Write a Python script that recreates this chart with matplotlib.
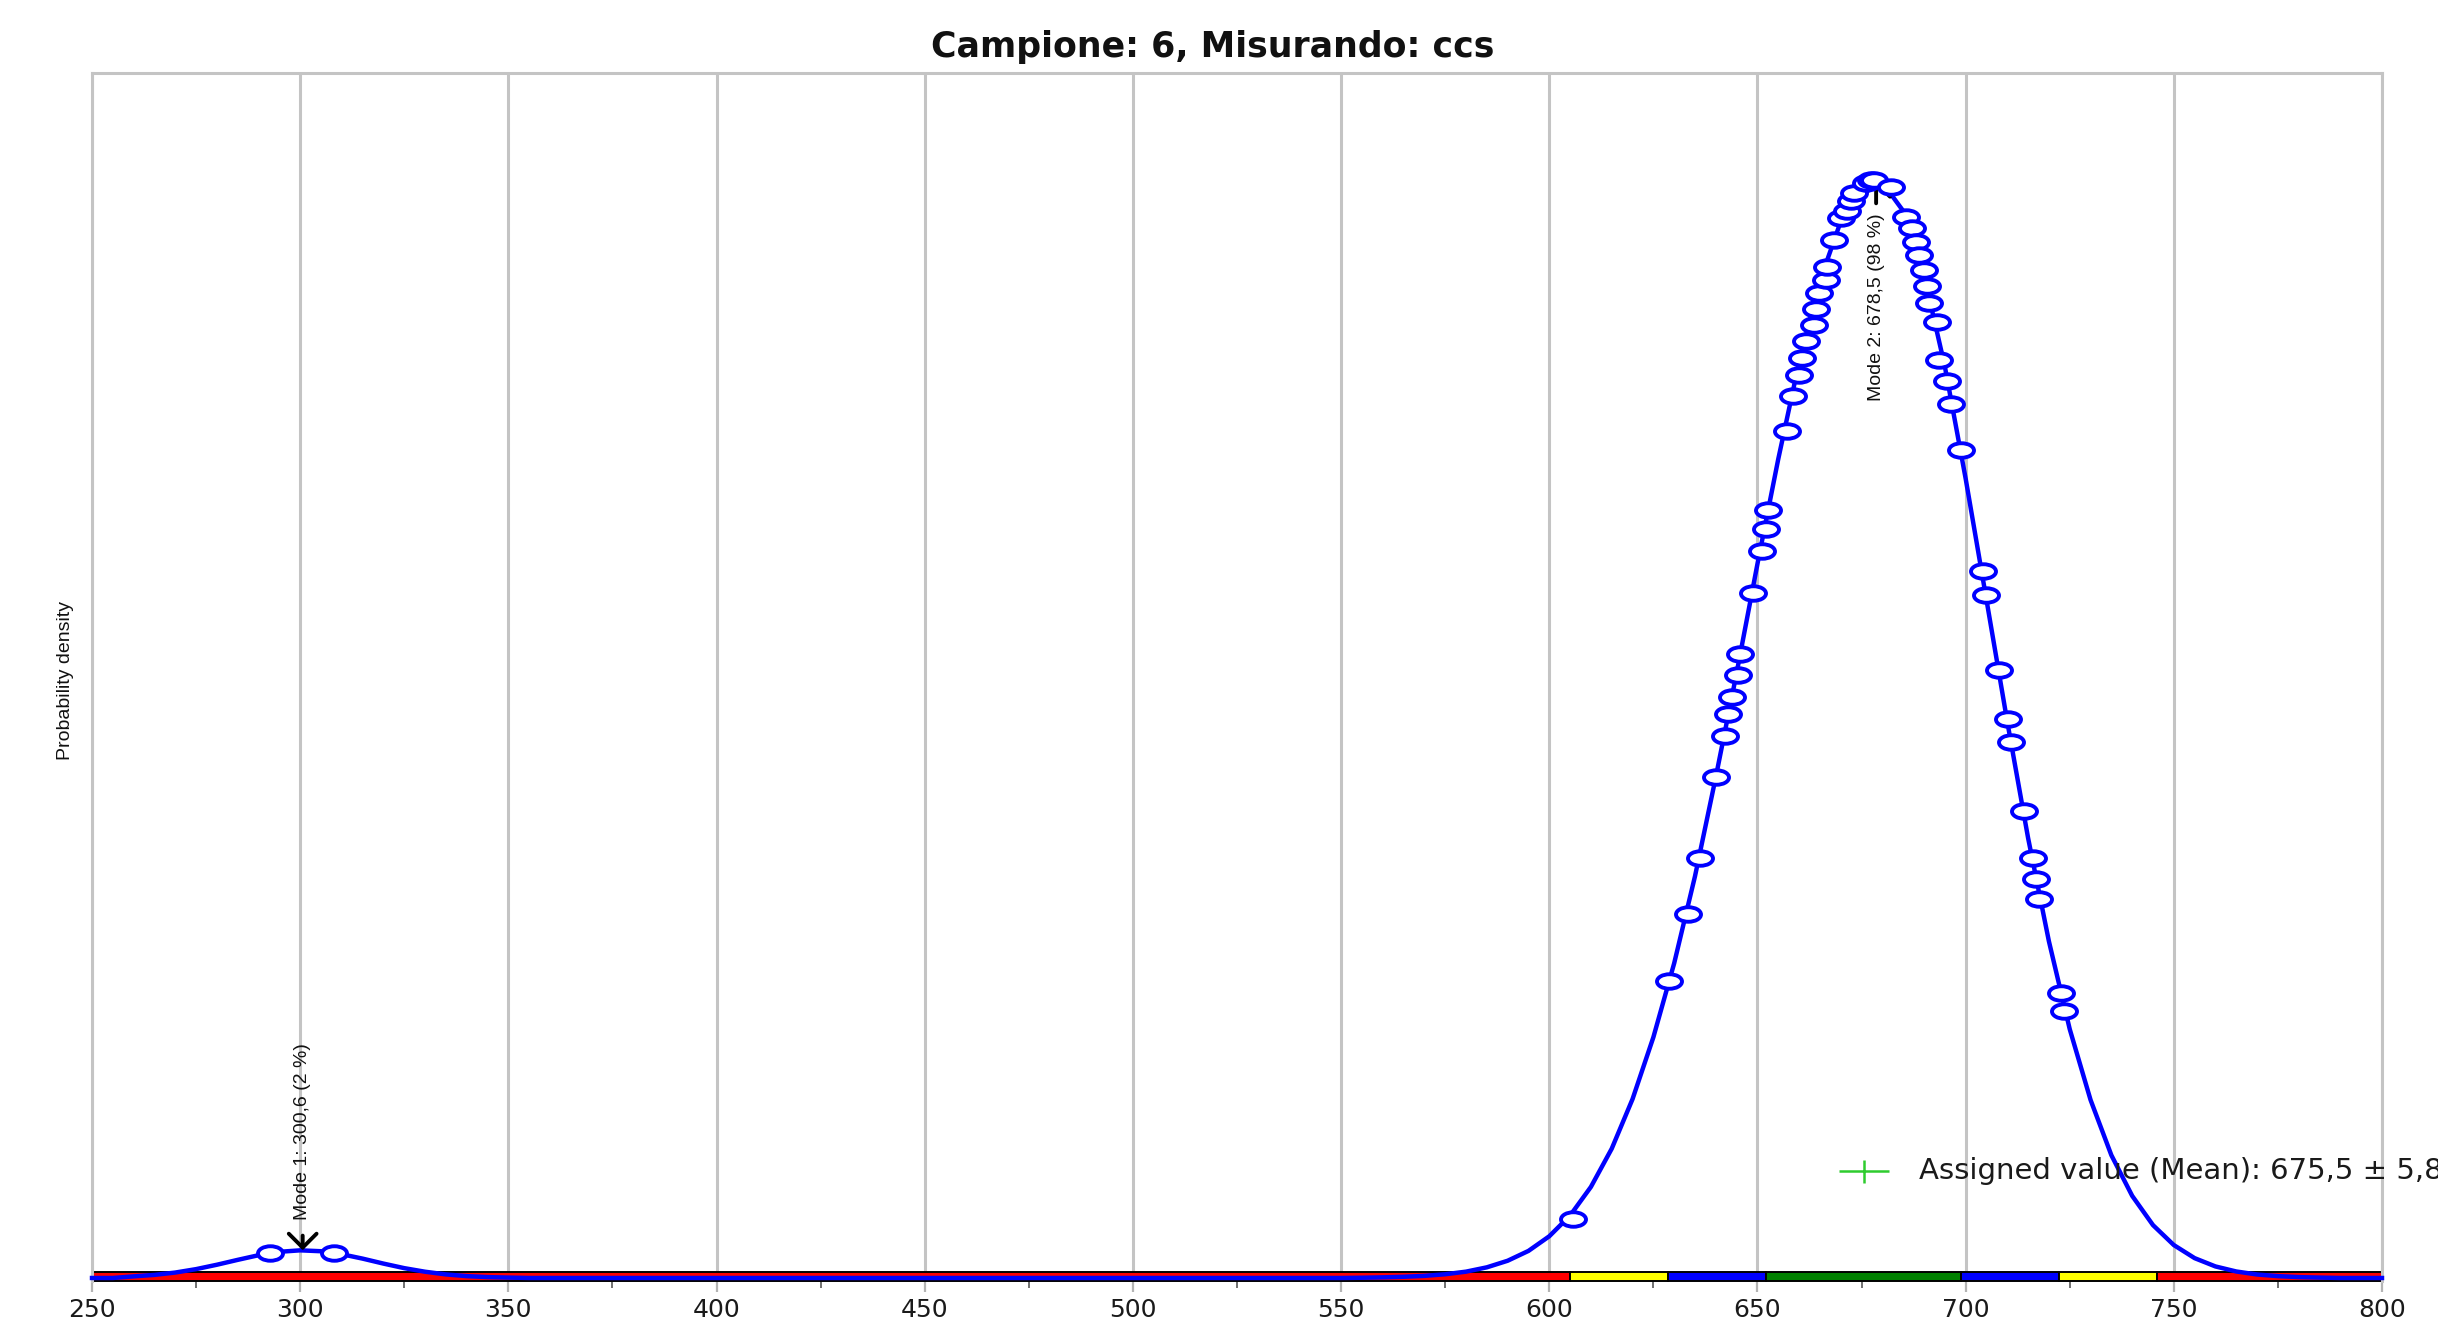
import matplotlib
matplotlib.use('Agg')
import matplotlib.pyplot as plt
import matplotlib.transforms as mtransforms
import numpy as np
from matplotlib.path import Path
from matplotlib.patches import Rectangle

# ---- data ----
title = 'Campione: 6, Misurando: ccs'
y_label = 'Probability density'

# kernel density curve (x, density)
curve_x = [250, 255, 260, 265, 270, 275, 280, 285, 290, 295, 300, 305, 310, 315, 320,
           325, 330, 335, 340, 345, 350, 355, 550, 555, 560, 565, 570, 575, 580, 585,
           590, 595, 600, 605, 610, 615, 620, 625, 630, 635, 640, 645, 650, 655, 660,
           665, 670, 675, 678, 680, 685, 690, 695, 700, 705, 710, 715, 720, 725, 730,
           735, 740, 745, 750, 755, 760, 765, 770, 775, 780, 785, 790, 800]
curve_y = [0, 0, 0.00002, 0.000038, 0.000067, 0.000109, 0.000163, 0.000223, 0.00028,
           0.000322, 0.00034, 0.000329, 0.000292, 0.000238, 0.000177, 0.000121, 0.000077,
           0.000044, 0.000023, 0.000011, 0.000005, 0, 0, 0.000003, 0.000008, 0.000015,
           0.000026, 0.000046, 0.000078, 0.000131, 0.000212, 0.000333, 0.000513, 0.000768,
           0.00112, 0.00159, 0.0022, 0.00296, 0.00387, 0.00494, 0.00616, 0.00744, 0.00878,
           0.01007, 0.01126, 0.01226, 0.01299, 0.01341, 0.0135, 0.01347, 0.01312, 0.01233,
           0.01121, 0.00983, 0.00834, 0.00684, 0.00541, 0.00414, 0.00306, 0.00219, 0.00151,
           0.00101, 0.00065, 0.000405, 0.000244, 0.000142, 0.00008, 0.000043, 0.000023,
           0.000011, 0.000005, 0, 0]

# individual results (markers on the curve)
sample_x = [292.8, 308.1,
            605.7, 628.7, 633.2, 636.3, 640.0, 642.2, 642.9, 643.8, 645.3, 645.9, 648.9,
            651.1, 652.0, 652.6, 657.2, 658.6, 660.0, 660.8, 661.6, 663.6, 664.0, 664.8,
            666.4, 666.8, 668.4, 670.0, 671.6, 672.4, 673.2, 676.0, 677.2, 678.0,
            682.0, 685.6, 687.2, 688.0, 688.8, 690.0, 690.8, 691.2, 693.2, 693.6, 695.6,
            696.6, 698.8, 704.2, 704.9, 707.9, 710.1, 710.9, 713.9, 716.2, 717.0, 717.5,
            722.8, 723.6]
sample_y = [0.000302, 0.000302,
            0.00073, 0.00365, 0.00448, 0.00517, 0.00616, 0.00666, 0.00693, 0.00714,
            0.00741, 0.00767, 0.00842, 0.00894, 0.00921, 0.00944, 0.01041, 0.01085,
            0.0111, 0.01131, 0.01152, 0.01172, 0.01192, 0.01211, 0.01227, 0.01243,
            0.01276, 0.01303, 0.01312, 0.01324, 0.01334, 0.01346, 0.0135, 0.0135,
            0.01342, 0.01305, 0.01291, 0.01274, 0.01258, 0.01239, 0.0122, 0.01199,
            0.01176, 0.01129, 0.01103, 0.01075, 0.01018, 0.00869, 0.0084, 0.00747,
            0.00687, 0.00659, 0.00574, 0.00517, 0.00491, 0.00466, 0.0035, 0.00328]

modes_x = [300.6, 678.5]
modes_y = [0.00034, 0.0135]
mode_labels = ['Mode 1: 300,6 (2 %)', 'Mode 2: 678,5 (98 %)']

assigned_value = 675.5
assigned_label = 'Assigned value (Mean): 675,5 \u00b1 5,8'

# z-score band below the axis
band_edges = [250, 605, 628.5, 652, 699, 722.5, 746, 800]
band_colors = ['#FF0000', '#FFFF00', '#0000FF', '#008000', '#0000FF', '#FFFF00', '#FF0000']

x_ticks = [250, 300, 350, 400, 450, 500, 550, 600, 650, 700, 750, 800]
x_minor = [275, 325, 375, 425, 475, 525, 575, 625, 675, 725, 775]

narrow = ['Liberation Sans', 'DejaVu Sans']

# ---- figure ----
W, H = 2438, 1329
fig = plt.figure(figsize=(W / 100, H / 100), dpi=100)
ax = fig.add_axes([92 / W, 1 - 1281 / H, (2382 - 92) / W, (1281 - 73) / H])

ax.set_xlim(250, 800)
ax.set_ylim(-0.000037, 0.014816)

# grid + frame
ax.set_xticks(x_ticks)
ax.set_xticks(x_minor, minor=True)
ax.set_yticks([])
ax.grid(axis='x', color='#C4C4C4', lw=2.2)
ax.set_axisbelow(True)
for side in ['left', 'right', 'top']:
    ax.spines[side].set_color('#C4C4C4')
    ax.spines[side].set_linewidth(2.2)
ax.spines['bottom'].set_visible(False)
ax.tick_params(axis='x', which='major', direction='out', length=8, width=1.6,
               color='#B4B4B4', labelsize=18, labelcolor='#1A1A1A', pad=4)
ax.tick_params(axis='x', which='minor', direction='out', length=5, width=1.4,
               color='#707070')

# band
blend = mtransforms.blended_transform_factory(ax.transData, ax.transAxes)
for i, col in enumerate(band_colors):
    ax.add_patch(Rectangle((band_edges[i], 0), band_edges[i + 1] - band_edges[i], 0.0072,
                           transform=blend, facecolor=col, edgecolor='black', lw=1.4,
                           clip_on=False, zorder=2))

# curve and results
ax.plot(curve_x, curve_y, color='#0000FF', lw=3.2, zorder=3, clip_on=False)
ellipse = Path(mtransforms.Affine2D().scale(1, 0.58).transform(Path.unit_circle().vertices),
               Path.unit_circle().codes)
ax.plot(sample_x, sample_y, ls='none', marker=ellipse, ms=18, mfc='white',
        mec='#0000FF', mew=2.8, zorder=4)

# modes
arrow = dict(arrowstyle='->,head_width=0.5,head_length=0.5', color='black', lw=2.8,
             mutation_scale=20, shrinkB=0)
ax.annotate(mode_labels[0], xy=(modes_x[0], modes_y[0]), xytext=(0, 30),
            textcoords='offset pixels', rotation=90, ha='center', va='bottom',
            fontsize=14, family=narrow, color='#111111',
            arrowprops=dict(arrow, shrinkA=9), zorder=5)
ax.annotate(mode_labels[1], xy=(modes_x[1], modes_y[1]), xytext=(0, -33),
            textcoords='offset pixels', rotation=90, ha='center', va='top',
            fontsize=14, family=narrow, color='#111111',
            arrowprops=dict(arrow, shrinkA=5), zorder=3.5)

# assigned value
plus = Path([(-1, 0), (1, 0), (0, -0.46), (0, 0.46)],
            [Path.MOVETO, Path.LINETO, Path.MOVETO, Path.LINETO])
ax.plot([assigned_value], [0.00132], ls='none', marker=plus, ms=36, mfc='none',
        mec='#2ECC2E', mew=1.8, zorder=5)
ax.annotate(assigned_label, xy=(assigned_value, 0.00132), xytext=(55, 0),
            textcoords='offset pixels', ha='left', va='center', fontsize=21,
            color='#1A1A1A', annotation_clip=False, zorder=5)

# titles
fig.text(1213 / W, 1 - 47 / H, title, ha='center', va='center', fontsize=25,
         fontweight='bold', color='#111111')
fig.text(65 / W, 1 - 680 / H, y_label, rotation=90, ha='center', va='center',
         fontsize=14, family=narrow, color='#111111')

fig.savefig('out.png', dpi=100)
